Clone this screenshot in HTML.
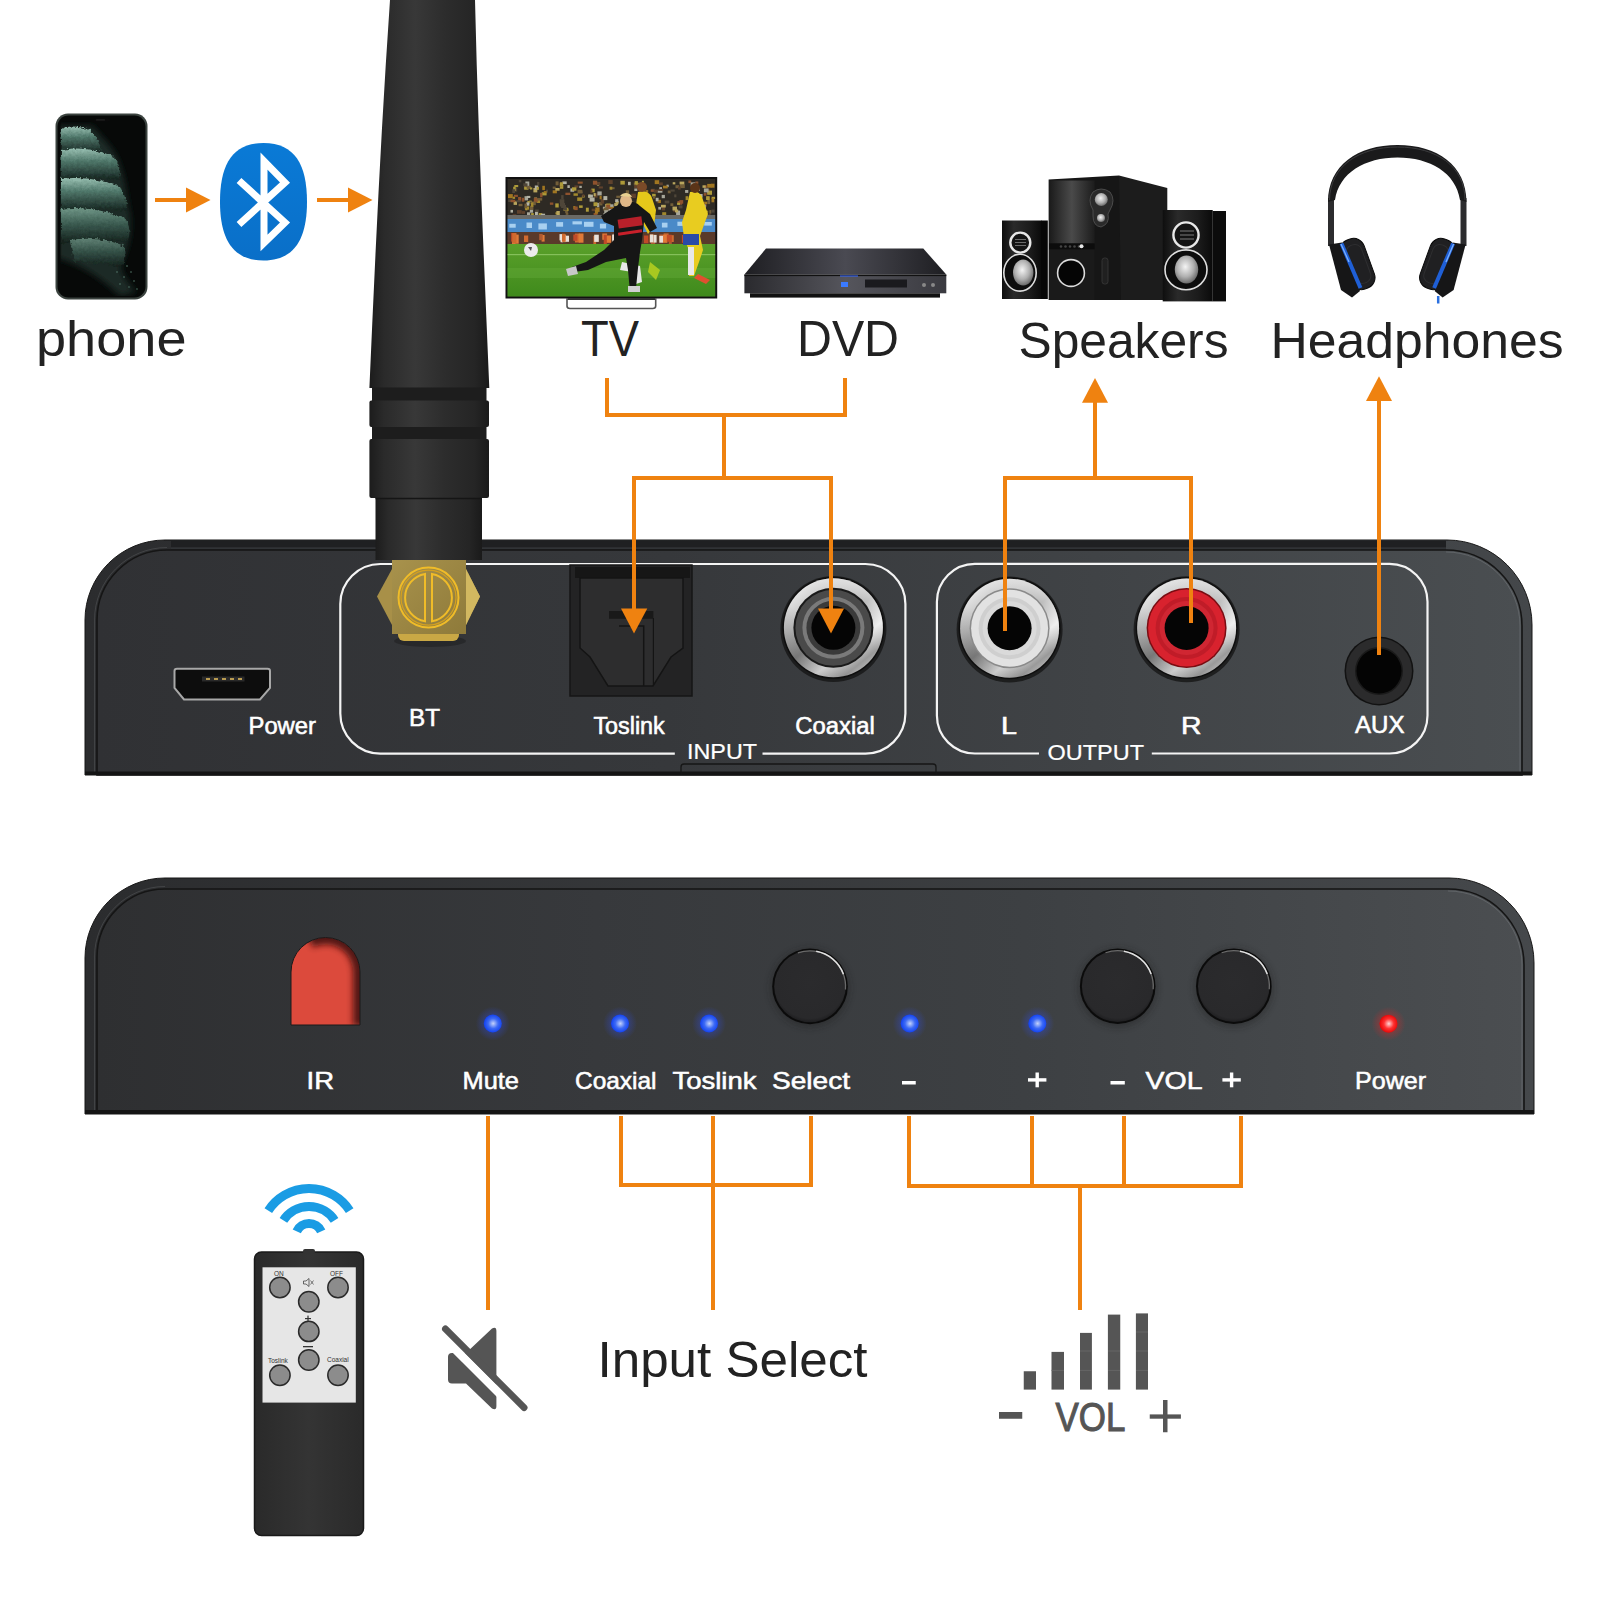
<!DOCTYPE html>
<html><head><meta charset="utf-8">
<style>
html,body{margin:0;padding:0;background:#fff;width:1600px;height:1600px;overflow:hidden}
svg{display:block}
text{font-family:"Liberation Sans",sans-serif}
</style></head>
<body>
<svg width="1600" height="1600" viewBox="0 0 1600 1600">
<defs>
  <linearGradient id="pTop" x1="0" y1="0" x2="1" y2="0">
    <stop offset="0" stop-color="#303134"/>
    <stop offset="0.4" stop-color="#36383b"/>
    <stop offset="1" stop-color="#4a4e51"/>
  </linearGradient>
  <linearGradient id="pBot" x1="0" y1="0" x2="1" y2="0">
    <stop offset="0" stop-color="#2e2f31"/>
    <stop offset="0.35" stop-color="#37393c"/>
    <stop offset="0.65" stop-color="#3d4043"/>
    <stop offset="1" stop-color="#4b4e51"/>
  </linearGradient>
  <linearGradient id="pRimT" x1="0" y1="0" x2="1" y2="0">
    <stop offset="0" stop-color="#2b2c2e"/>
    <stop offset="1" stop-color="#44474a"/>
  </linearGradient>
  <linearGradient id="pRimB" x1="0" y1="0" x2="1" y2="0">
    <stop offset="0" stop-color="#2b2c2e"/>
    <stop offset="1" stop-color="#45484b"/>
  </linearGradient>
  <linearGradient id="ant" x1="0" y1="0" x2="1" y2="0">
    <stop offset="0" stop-color="#1c1c1c"/>
    <stop offset="0.12" stop-color="#2a2a2a"/>
    <stop offset="0.38" stop-color="#383838"/>
    <stop offset="0.62" stop-color="#2d2d2d"/>
    <stop offset="0.88" stop-color="#252525"/>
    <stop offset="1" stop-color="#1a1a1a"/>
  </linearGradient>
  <linearGradient id="gold" x1="0" y1="0" x2="1" y2="1">
    <stop offset="0" stop-color="#a8924c"/>
    <stop offset="1" stop-color="#8e7a3a"/>
  </linearGradient>
  <linearGradient id="silver" x1="0.1" y1="0" x2="0.9" y2="1">
    <stop offset="0" stop-color="#fbfbfb"/>
    <stop offset="0.3" stop-color="#bdbdbd"/>
    <stop offset="0.5" stop-color="#8a8a8a"/>
    <stop offset="0.7" stop-color="#e6e6e6"/>
    <stop offset="0.85" stop-color="#9a9a9a"/>
    <stop offset="1" stop-color="#d8d8d8"/>
  </linearGradient>
  <linearGradient id="silver2" x1="1" y1="0" x2="0" y2="1">
    <stop offset="0" stop-color="#ffffff" stop-opacity="0.9"/>
    <stop offset="0.4" stop-color="#ffffff" stop-opacity="0"/>
    <stop offset="0.6" stop-color="#000" stop-opacity="0"/>
    <stop offset="1" stop-color="#000" stop-opacity="0.25"/>
  </linearGradient>
  <radialGradient id="ledB" cx="0.52" cy="0.5" r="0.55">
    <stop offset="0" stop-color="#c4d2fa"/>
    <stop offset="0.5" stop-color="#3d6af5"/>
    <stop offset="1" stop-color="#0a3af0"/>
  </radialGradient>
  <radialGradient id="ledR" cx="0.52" cy="0.5" r="0.55">
    <stop offset="0" stop-color="#ffd4d4"/>
    <stop offset="0.5" stop-color="#ff3030"/>
    <stop offset="1" stop-color="#e00000"/>
  </radialGradient>
  <radialGradient id="glowB" cx="0.5" cy="0.5" r="0.5">
    <stop offset="0.4" stop-color="#3050ff" stop-opacity="0.35"/>
    <stop offset="1" stop-color="#3050ff" stop-opacity="0"/>
  </radialGradient>
  <radialGradient id="glowR" cx="0.5" cy="0.5" r="0.5">
    <stop offset="0.4" stop-color="#ff2020" stop-opacity="0.35"/>
    <stop offset="1" stop-color="#ff2020" stop-opacity="0"/>
  </radialGradient>
  <radialGradient id="btn" cx="0.5" cy="0.45" r="0.55">
    <stop offset="0" stop-color="#2b2b2d"/>
    <stop offset="0.9" stop-color="#29292b"/>
    <stop offset="1" stop-color="#1e1e20"/>
  </radialGradient>
</defs>

<!-- ============ TOP PANEL ============ -->
<path d="M85,775 L85,620 A80,80 0 0 1 165,540 L1447,540 A85,85 0 0 1 1532,625 L1532,775 Z" fill="url(#pRimT)" stroke="#161616" stroke-width="1"/>
<rect x="171" y="540.5" width="1275" height="9" fill="#1f2022"/>
<rect x="171" y="547.5" width="1275" height="1.2" fill="#45484b" opacity="0.7"/>
<path d="M97,775 L97,620 A70,70 0 0 1 167,550 L1446,550 A76,76 0 0 1 1522,626 L1522,775 Z" fill="url(#pTop)" stroke="#151515" stroke-width="1.6"/>
<path d="M94.5,775 L94.5,620 A72.5,72.5 0 0 1 167,547.5" fill="none" stroke="#5a5c5e" stroke-width="0.8" opacity="0.6"/>
<path d="M1446,552 A74,74 0 0 1 1520,626 L1520,775" fill="none" stroke="#7a7e82" stroke-width="0.8" opacity="0.6"/>
<rect x="85" y="771.5" width="1447" height="3.5" fill="#141414"/>

<!-- ============ BOTTOM PANEL ============ -->
<path d="M85,1114 L85,958 A80,80 0 0 1 165,878 L1449,878 A85,85 0 0 1 1534,963 L1534,1114 Z" fill="url(#pRimB)" stroke="#161616" stroke-width="1"/>
<path d="M97,1111 L97,957 A68,68 0 0 1 165,889 L1448,889 A76,76 0 0 1 1524,965 L1524,1111 Z" fill="url(#pBot)" stroke="#151515" stroke-width="1.6"/>
<path d="M94.5,1111 L94.5,957 A70.5,70.5 0 0 1 165,886.5" fill="none" stroke="#5a5c5e" stroke-width="0.8" opacity="0.6"/>
<path d="M1448,891 A74,74 0 0 1 1522,965 L1522,1111" fill="none" stroke="#7a7e82" stroke-width="0.8" opacity="0.6"/>
<rect x="85" y="1110" width="1449" height="4" fill="#141414"/>

<!-- ===== top panel components ===== -->
<g fill="none" stroke="#f4f4f4" stroke-width="2.2">
  <path d="M762.5,753.6 L865.4,753.6 A40,40 0 0 0 905.4,713.6 L905.4,604 A40,40 0 0 0 865.4,564 L380.3,564 A40,40 0 0 0 340.3,604 L340.3,713.6 A40,40 0 0 0 380.3,753.6 L674.8,753.6"/>
  <path d="M1151.8,753.5 L1389.5,753.5 A38,38 0 0 0 1427.5,715.5 L1427.5,601.8 A38,38 0 0 0 1389.5,563.8 L974.9,563.8 A38,38 0 0 0 936.9,601.8 L936.9,715.5 A38,38 0 0 0 974.9,753.5 L1039,753.5"/>
</g>
<!-- notch -->
<path d="M681,775 L681,767 Q681,764 684,764 L933,764 Q936,764 936,767 L936,775" fill="none" stroke="#161616" stroke-width="1.3"/>
<!-- micro usb -->
<path d="M177,668.75 L267.5,668.75 Q270,668.75 270,671 L270,688 L260,699.5 L184,699.5 L174.5,688 L174.5,671 Q174.5,668.75 177,668.75 Z" fill="#0d0d0d" stroke="#a8a8a8" stroke-width="2"/>
<rect x="202" y="676.5" width="42.5" height="5" fill="#2a2a2a"/>
<g fill="#b89a50"><rect x="206" y="678" width="4" height="2"/><rect x="214" y="678" width="4" height="2"/><rect x="222" y="678" width="4" height="2"/><rect x="230" y="678" width="4" height="2"/><rect x="238" y="678" width="4" height="2"/></g>
<!-- toslink -->
<rect x="570" y="565" width="122" height="131" fill="#232324" stroke="#161616" stroke-width="1.5"/>
<rect x="575" y="567" width="115" height="11" fill="#161616"/>
<path d="M580,578 L683,578 L683,648 L671,657 L653,686 L608,686 L590,657 L580,648 Z" fill="#2d2d2e" stroke="#141414" stroke-width="1.5"/>
<rect x="609" y="611" width="44.4" height="7.75" fill="#191919"/>
<path d="M619,626 L643.7,626 L643.7,686" fill="none" stroke="#141414" stroke-width="1.5"/>
<line x1="653.4" y1="618" x2="653.4" y2="686" stroke="#141414" stroke-width="1.2"/>
<!-- coaxial -->
<circle cx="833.4" cy="629" r="53" fill="#151515" opacity="0.8"/>
<circle cx="833.4" cy="627.8" r="51" fill="#0e0e0e"/>
<circle cx="833.4" cy="627.8" r="49.5" fill="url(#silver)"/>
<circle cx="833.4" cy="627.8" r="49.5" fill="url(#silver2)"/>
<circle cx="833.4" cy="627.8" r="40" fill="#1a1a1a"/>
<circle cx="833.4" cy="627.8" r="38" fill="#4a4a4a"/>
<circle cx="833.4" cy="627.8" r="31" fill="#7a7a7a"/>
<circle cx="833.4" cy="627.8" r="27" fill="#3a3a3a"/>
<circle cx="833.4" cy="627.8" r="22" fill="#050505"/>
<!-- L jack -->
<circle cx="1009.6" cy="629.5" r="53" fill="#151515" opacity="0.8"/>
<circle cx="1009.6" cy="628.2" r="51" fill="#0e0e0e"/>
<circle cx="1009.6" cy="628.2" r="49.5" fill="url(#silver)"/>
<circle cx="1009.6" cy="628.2" r="49.5" fill="url(#silver2)"/>
<circle cx="1009.6" cy="628.2" r="40" fill="#8a8a8a"/>
<circle cx="1009.6" cy="628.2" r="38.5" fill="#e2e2e2"/>
<circle cx="1009.6" cy="628.2" r="31" fill="#cfcfcf"/>
<circle cx="1009.6" cy="628.2" r="27" fill="#dadada"/>
<circle cx="1009.6" cy="628.2" r="22" fill="#050505"/>
<!-- R jack -->
<circle cx="1186.6" cy="629.3" r="53" fill="#151515" opacity="0.8"/>
<circle cx="1186.6" cy="628" r="51" fill="#0e0e0e"/>
<circle cx="1186.6" cy="628" r="49.5" fill="url(#silver)"/>
<circle cx="1186.6" cy="628" r="49.5" fill="url(#silver2)"/>
<circle cx="1186.6" cy="628" r="40" fill="#7a0c12"/>
<circle cx="1186.6" cy="628" r="38.5" fill="#d8222e"/>
<circle cx="1186.6" cy="628" r="31" fill="#c01c28"/>
<circle cx="1186.6" cy="628" r="27" fill="#d02632"/>
<circle cx="1186.6" cy="628" r="22" fill="#050505"/>
<!-- AUX -->
<circle cx="1379" cy="671" r="34.5" fill="#121212"/>
<circle cx="1379" cy="671" r="33" fill="#2b2b2c"/>
<circle cx="1379" cy="671" r="24" fill="#1a1a1a"/>
<circle cx="1379" cy="671" r="22.5" fill="#040404"/>

<!-- ===== antenna ===== -->
<path d="M390,0 L475,0 C478,130 484,260 489.3,388 L369.4,388 C375,260 381,130 390,0 Z" fill="url(#ant)"/>
<rect x="372" y="387.5" width="114.5" height="13.5" fill="#1d1d1d"/>
<rect x="369.4" y="400.6" width="119.6" height="26.4" rx="2" fill="url(#ant)"/>
<rect x="372" y="427" width="114.5" height="12" fill="#1d1d1d"/>
<rect x="369.4" y="439" width="119.6" height="59" rx="2" fill="url(#ant)"/>
<rect x="375.5" y="498" width="106.5" height="62" fill="url(#ant)"/>
<line x1="375.5" y1="498.5" x2="482" y2="498.5" stroke="#151515" stroke-width="1.5"/>
<!-- gold connector -->
<ellipse cx="430" cy="641" rx="36" ry="6" fill="#111" opacity="0.35"/>
<polygon points="377,596.5 392,569 466,569 480,596.5 466,625 392,625" fill="#a89048"/>
<polygon points="466,569 480,596.5 466,625" fill="#d2b860"/>
<rect x="398" y="624" width="61" height="17" rx="6" fill="#c9a845"/>
<rect x="392" y="560" width="74" height="74" fill="url(#gold)"/>
<g fill="none" stroke="#f0bc28" stroke-width="2">
  <circle cx="428.5" cy="597.6" r="30"/>
  <circle cx="428.5" cy="597.6" r="27.5" stroke="#d4a020" stroke-width="1.2"/>
  <path d="M425,574 A24,24 0 0 0 425,621.3 Z"/>
  <path d="M432,574 A24,24 0 0 1 432,621.3 Z"/>
</g>

<!-- ===== bottom panel components ===== -->
<clipPath id="irClip"><path d="M291,1025 L291,972 A34.5,34.5 0 0 1 360,972 L360,1025 Z"/></clipPath>
<path d="M291,1025 L291,972 A34.5,34.5 0 0 1 360,972 L360,1025 Z" fill="#dc4a3c"/>
<g clip-path="url(#irClip)">
  <path d="M310,941.2 A34.5,34.5 0 0 1 360,972 L360,1026" fill="none" stroke="#3a0e0a" stroke-width="14" filter="url(#blur3)" opacity="0.85"/>
</g>
<path d="M291,1025 L291,972 A34.5,34.5 0 0 1 360,972 L360,1025 Z" fill="none" stroke="#1a1a1a" stroke-width="1"/>
<g>
  <circle cx="492.8" cy="1023.5" r="17" fill="url(#glowB)"/>
  <circle cx="620" cy="1023.5" r="17" fill="url(#glowB)"/>
  <circle cx="709" cy="1023.5" r="17" fill="url(#glowB)"/>
  <circle cx="909.7" cy="1023.5" r="17" fill="url(#glowB)"/>
  <circle cx="1037.3" cy="1023.5" r="17" fill="url(#glowB)"/>
  <circle cx="1388.5" cy="1023.7" r="17" fill="url(#glowR)"/>
  <circle cx="492.8" cy="1023.5" r="9" fill="url(#ledB)"/>
  <circle cx="620" cy="1023.5" r="9" fill="url(#ledB)"/>
  <circle cx="709" cy="1023.5" r="9" fill="url(#ledB)"/>
  <circle cx="909.7" cy="1023.5" r="9" fill="url(#ledB)"/>
  <circle cx="1037.3" cy="1023.5" r="9" fill="url(#ledB)"/>
  <circle cx="1388.5" cy="1023.7" r="9" fill="url(#ledR)"/>
</g>
<g>
  <circle cx="810" cy="987.9" r="40" fill="#1a1a1a" opacity="0.35" filter="url(#blur3)"/>
  <circle cx="1117.7" cy="987.7" r="40" fill="#1a1a1a" opacity="0.35" filter="url(#blur3)"/>
  <circle cx="1233.8" cy="987.7" r="40" fill="#1a1a1a" opacity="0.35" filter="url(#blur3)"/>
  <circle cx="810" cy="986.4" r="37.8" fill="#0b0b0b"/>
  <circle cx="810" cy="986.4" r="35.8" fill="url(#btn)"/>
  <path d="M797.82,952.95 A35.6,35.6 0 0 1 845.46,989.50" fill="none" stroke="#6a6a6a" stroke-width="1.3"/>
  <path d="M816.18,951.34 A35.6,35.6 0 0 1 843.45,974.22" fill="none" stroke="#e0e0e0" stroke-width="1.5"/>
  <circle cx="1117.7" cy="986.2" r="37.8" fill="#0b0b0b"/>
  <circle cx="1117.7" cy="986.2" r="35.8" fill="url(#btn)"/>
  <path d="M1105.52,952.75 A35.6,35.6 0 0 1 1153.16,989.30" fill="none" stroke="#6a6a6a" stroke-width="1.3"/>
  <path d="M1123.88,951.14 A35.6,35.6 0 0 1 1151.15,974.02" fill="none" stroke="#e0e0e0" stroke-width="1.5"/>
  <circle cx="1233.8" cy="986.2" r="37.8" fill="#0b0b0b"/>
  <circle cx="1233.8" cy="986.2" r="35.8" fill="url(#btn)"/>
  <path d="M1221.62,952.75 A35.6,35.6 0 0 1 1269.26,989.30" fill="none" stroke="#6a6a6a" stroke-width="1.3"/>
  <path d="M1239.98,951.14 A35.6,35.6 0 0 1 1267.25,974.02" fill="none" stroke="#e0e0e0" stroke-width="1.5"/>
</g>
<g fill="#fff">
  <rect x="902" y="1081" width="13.75" height="3.5"/>
  <rect x="1028" y="1078.2" width="18.4" height="3.4"/>
  <rect x="1035.5" y="1072.5" width="3.4" height="14.8"/>
  <rect x="1110.5" y="1081" width="14.3" height="3.5"/>
  <rect x="1222.4" y="1078.2" width="18.4" height="3.4"/>
  <rect x="1229.9" y="1072.5" width="3.4" height="14.8"/>
</g>

<!-- ============ ORANGE LINES ============ -->
<g stroke="#ef8210" stroke-width="4" fill="none">
  <polyline points="607,378 607,415 845,415 845,378"/>
  <line x1="724" y1="415" x2="724" y2="478"/>
  <polyline points="634,609 634,478 831,478 831,609"/>
  <polyline points="1005,631 1005,478 1191,478 1191,623"/>
  <line x1="1095" y1="478" x2="1095" y2="400"/>
  <line x1="1379" y1="655" x2="1379" y2="398"/>
  <line x1="155" y1="200" x2="188" y2="200"/>
  <line x1="317" y1="200" x2="350" y2="200"/>
  <line x1="488" y1="1116" x2="488" y2="1310"/>
  <polyline points="621,1116 621,1185 811,1185 811,1116"/>
  <line x1="713" y1="1116" x2="713" y2="1310"/>
  <polyline points="909,1116 909,1186 1241,1186 1241,1116"/>
  <line x1="1032" y1="1116" x2="1032" y2="1186"/>
  <line x1="1124" y1="1116" x2="1124" y2="1186"/>
  <line x1="1080" y1="1186" x2="1080" y2="1310"/>
</g>
<g fill="#ef8210">
  <polygon points="186,187.5 210.5,200 186,212.5"/>
  <polygon points="348,187.5 372.5,200 348,212.5"/>
  <polygon points="621,608.6 647.3,608.6 634,633.4"/>
  <polygon points="818,608.6 844,608.6 831,633.4"/>
  <polygon points="1082,402.7 1108,402.7 1095,378"/>
  <polygon points="1366,401 1392,401 1379,376.3"/>
</g>


<!-- ===== phone ===== -->
<defs>
  <filter id="blur3" x="-20%" y="-20%" width="140%" height="140%"><feGaussianBlur stdDeviation="3"/></filter>
  <filter id="feather" x="-10%" y="-10%" width="120%" height="120%"><feTurbulence type="fractalNoise" baseFrequency="0.35" numOctaves="2" seed="3" result="n"/><feDisplacementMap in="SourceGraphic" in2="n" scale="5" xChannelSelector="R" yChannelSelector="G"/></filter>
  <filter id="blur1" x="-20%" y="-20%" width="140%" height="140%"><feGaussianBlur stdDeviation="0.8"/></filter>
  <radialGradient id="phoneScr" cx="0.5" cy="0.5" r="0.5">
    <stop offset="0" stop-color="#6f9a8c"/>
    <stop offset="0.45" stop-color="#3c5f55"/>
    <stop offset="0.8" stop-color="#15201d" stop-opacity="0.6"/>
    <stop offset="1" stop-color="#050706" stop-opacity="0"/>
  </radialGradient>
  <linearGradient id="btBlue" x1="0" y1="0" x2="0" y2="1">
    <stop offset="0" stop-color="#0a7ad6"/>
    <stop offset="1" stop-color="#0a6fc8"/>
  </linearGradient>
  <linearGradient id="tvSky" x1="0" y1="0" x2="0" y2="1">
    <stop offset="0" stop-color="#2a2a22"/>
    <stop offset="0.55" stop-color="#4a4630"/>
    <stop offset="1" stop-color="#3a3a30"/>
  </linearGradient>
  <linearGradient id="tvGrass" x1="0" y1="0" x2="0" y2="1">
    <stop offset="0" stop-color="#5aa02a"/>
    <stop offset="1" stop-color="#3f8a1c"/>
  </linearGradient>
  <linearGradient id="dvdTop" x1="0" y1="0" x2="1" y2="0">
    <stop offset="0" stop-color="#1e1e22"/>
    <stop offset="0.5" stop-color="#4a4a52"/>
    <stop offset="1" stop-color="#1e1e22"/>
  </linearGradient>
  <linearGradient id="dvdFront" x1="0" y1="0" x2="1" y2="0">
    <stop offset="0" stop-color="#2a2a2e"/>
    <stop offset="0.5" stop-color="#55555c"/>
    <stop offset="1" stop-color="#3a3a40"/>
  </linearGradient>
  <radialGradient id="cone" cx="0.45" cy="0.4" r="0.6">
    <stop offset="0" stop-color="#f4f4f4"/>
    <stop offset="0.6" stop-color="#b0b0b0"/>
    <stop offset="1" stop-color="#6a6a6a"/>
  </radialGradient>
  <linearGradient id="spk" x1="0" y1="0" x2="1" y2="0">
    <stop offset="0" stop-color="#1a1a1a"/>
    <stop offset="0.5" stop-color="#2e2e2e"/>
    <stop offset="1" stop-color="#141414"/>
  </linearGradient>
</defs>
<rect x="55.5" y="113.5" width="92" height="186" rx="12.5" fill="#3b433f"/>
<rect x="57.5" y="115.5" width="88" height="182" rx="11" fill="#070908"/>
<clipPath id="scrClip"><rect x="60.5" y="118" width="82.5" height="178" rx="8"/></clipPath>
<defs>
  <linearGradient id="crest" x1="0" y1="0" x2="0" y2="1">
    <stop offset="0" stop-color="#98bfb1"/>
    <stop offset="0.4" stop-color="#4f776a"/>
    <stop offset="1" stop-color="#14221e"/>
  </linearGradient>
  <linearGradient id="crest2" x1="0" y1="0" x2="0" y2="1">
    <stop offset="0" stop-color="#6f9586"/>
    <stop offset="0.45" stop-color="#3a5a4f"/>
    <stop offset="1" stop-color="#111c18"/>
  </linearGradient>
</defs>
<g clip-path="url(#scrClip)">
  <path d="M58,126 L92,126 C104,140 116,150 120,166 C126,182 126,198 130,214 C132,232 128,248 122,262 C118,272 128,282 136,292 L120,296 C104,280 84,266 58,258 Z" fill="#1a2b26" filter="url(#blur3)"/>
  <g filter="url(#feather)">
    <path d="M61,129 C68,125 80,126 90,130 C96,137 100,145 104,153 C90,153 74,152 61,153 Z" fill="url(#crest)"/>
    <path d="M61,150 C80,146 100,150 114,157 C120,165 121,172 119,180 C100,178 80,177 61,180 Z" fill="url(#crest)"/>
    <path d="M61,179 C80,176 102,180 118,186 C125,194 128,202 126,211 C104,209 82,208 61,211 Z" fill="url(#crest)"/>
    <path d="M61,209 C82,206 106,211 125,218 C130,226 131,234 127,242 C104,240 80,240 61,244 Z" fill="url(#crest2)"/>
    <path d="M70,240 C90,237 110,240 124,246 C127,254 125,261 121,267 C104,264 88,262 74,262 Z" fill="url(#crest2)" opacity="0.8"/>
  </g>
  <g fill="#5a8072" opacity="0.55"><circle cx="127" cy="266" r="1.1"/><circle cx="131" cy="272" r="1"/><circle cx="124" cy="277" r="1.1"/><circle cx="134" cy="281" r="1"/><circle cx="120" cy="284" r="1"/><circle cx="129" cy="287" r="0.9"/><circle cx="137" cy="289" r="0.9"/><circle cx="117" cy="272" r="1"/></g>
</g>
<rect x="94" y="118.5" width="16" height="3" rx="1.5" fill="#0a0a0a"/>
<rect x="96" y="119.3" width="9" height="1.2" rx="0.6" fill="#222"/>

<!-- ===== bluetooth ===== -->
<path d="M263.5,143 C295,143 307,165 307,201.75 C307,238 295,260.5 263.5,260.5 C232,260.5 220,238 220,201.75 C220,165 232,143 263.5,143 Z" fill="url(#btBlue)"/>
<polyline points="239,180.5 285,222.5 264,243 264,161 285,182.5 239,224.5" fill="none" stroke="#fff" stroke-width="7" stroke-linejoin="miter" stroke-miterlimit="10"/>

<!-- ===== TV ===== -->
<rect x="505.5" y="177" width="211.7" height="121.5" fill="#111"/>
<rect x="507.5" y="179" width="207.7" height="117.5" fill="#2e2a24"/>
<g opacity="0.75"><rect x="574.4" y="185.4" width="4.0" height="2.2" fill="#704a30"/><rect x="527.3" y="201.0" width="4.7" height="2.5" fill="#d8c040"/><rect x="596.9" y="182.5" width="2.3" height="3.1" fill="#e8d070"/><rect x="533.4" y="188.0" width="3.9" height="4.4" fill="#e8d070"/><rect x="628.0" y="181.8" width="2.7" height="3.4" fill="#e0e0d0"/><rect x="567.4" y="185.2" width="2.4" height="2.8" fill="#e0e0d0"/><rect x="529.1" y="200.6" width="2.6" height="2.2" fill="#d8c040"/><rect x="623.7" y="202.3" width="3.5" height="3.3" fill="#5a5040"/><rect x="603.4" y="213.2" width="3.1" height="2.6" fill="#e0e0d0"/><rect x="651.3" y="188.8" width="3.7" height="3.3" fill="#5a5040"/><rect x="657.5" y="190.4" width="4.9" height="2.3" fill="#d0d0c0"/><rect x="541.8" y="192.3" width="4.8" height="3.1" fill="#d8c040"/><rect x="664.7" y="200.6" width="4.6" height="2.8" fill="#5a5040"/><rect x="629.8" y="200.9" width="3.4" height="4.1" fill="#8a7040"/><rect x="605.2" y="203.9" width="2.2" height="3.8" fill="#e8d070"/><rect x="711.6" y="209.6" width="2.9" height="3.0" fill="#5a5040"/><rect x="512.6" y="196.6" width="2.5" height="2.3" fill="#c8a830"/><rect x="552.7" y="190.3" width="4.2" height="3.0" fill="#c89020"/><rect x="524.5" y="196.2" width="3.6" height="4.2" fill="#d0d0c0"/><rect x="685.1" y="190.0" width="3.2" height="2.9" fill="#d0d0c0"/><rect x="704.3" y="185.4" width="2.5" height="2.6" fill="#b06030"/><rect x="510.5" y="209.9" width="2.5" height="2.7" fill="#e0e0d0"/><rect x="593.9" y="193.3" width="3.7" height="4.4" fill="#704a30"/><rect x="702.8" y="203.6" width="4.2" height="3.1" fill="#704a30"/><rect x="588.4" y="194.4" width="2.3" height="3.6" fill="#c8a830"/><rect x="547.1" y="215.4" width="3.3" height="2.3" fill="#e8d070"/><rect x="518.8" y="180.0" width="2.5" height="2.3" fill="#5a5040"/><rect x="633.8" y="182.5" width="2.6" height="2.9" fill="#8a7040"/><rect x="703.9" y="201.7" width="3.4" height="2.3" fill="#c89020"/><rect x="711.6" y="196.8" width="3.5" height="2.2" fill="#d8c040"/><rect x="661.7" y="206.7" width="3.4" height="3.7" fill="#704a30"/><rect x="512.7" y="214.2" width="3.6" height="2.4" fill="#704a30"/><rect x="695.4" y="207.3" width="2.9" height="3.6" fill="#d8c040"/><rect x="650.7" y="189.4" width="3.1" height="2.4" fill="#b06030"/><rect x="617.2" y="208.0" width="3.0" height="2.6" fill="#b06030"/><rect x="673.2" y="209.5" width="4.2" height="2.6" fill="#704a30"/><rect x="609.0" y="206.3" width="5.0" height="4.0" fill="#c89020"/><rect x="561.1" y="204.9" width="4.9" height="3.1" fill="#5a5040"/><rect x="703.8" y="193.1" width="2.7" height="2.6" fill="#b06030"/><rect x="577.2" y="197.4" width="5.0" height="3.5" fill="#c8a830"/><rect x="606.3" y="203.5" width="4.4" height="2.2" fill="#d8c040"/><rect x="694.5" y="208.2" width="4.3" height="3.2" fill="#e0e0d0"/><rect x="597.0" y="202.9" width="2.3" height="4.4" fill="#d0d0c0"/><rect x="602.9" y="206.8" width="2.3" height="2.4" fill="#e0e0d0"/><rect x="513.6" y="201.3" width="3.4" height="3.6" fill="#e8d070"/><rect x="677.4" y="215.3" width="4.0" height="2.9" fill="#704a30"/><rect x="620.4" y="180.8" width="4.4" height="3.8" fill="#d8c040"/><rect x="615.9" y="213.6" width="3.3" height="4.2" fill="#b06030"/><rect x="513.7" y="187.7" width="3.5" height="3.9" fill="#5a5040"/><rect x="561.2" y="195.1" width="2.4" height="4.3" fill="#5a5040"/><rect x="692.0" y="203.8" width="4.4" height="3.3" fill="#704a30"/><rect x="534.8" y="185.5" width="3.5" height="4.2" fill="#e0e0d0"/><rect x="632.8" y="207.9" width="2.4" height="2.4" fill="#e8d070"/><rect x="656.7" y="200.0" width="3.0" height="3.3" fill="#704a30"/><rect x="606.9" y="208.0" width="4.6" height="2.1" fill="#b06030"/><rect x="564.8" y="207.8" width="3.5" height="3.4" fill="#d8c040"/><rect x="598.9" y="202.1" width="3.5" height="3.3" fill="#8a7040"/><rect x="600.7" y="199.2" width="3.4" height="4.4" fill="#704a30"/><rect x="687.7" y="213.9" width="2.8" height="3.4" fill="#b06030"/><rect x="680.2" y="184.9" width="2.4" height="3.1" fill="#d8c040"/><rect x="645.6" y="195.4" width="2.6" height="2.8" fill="#d8c040"/><rect x="691.9" y="185.6" width="4.1" height="3.7" fill="#e0e0d0"/><rect x="559.9" y="184.9" width="3.4" height="3.9" fill="#d8c040"/><rect x="589.6" y="197.5" width="5.0" height="4.1" fill="#e0e0d0"/><rect x="652.8" y="215.8" width="3.2" height="3.1" fill="#5a5040"/><rect x="573.3" y="206.0" width="2.1" height="3.4" fill="#c89020"/><rect x="652.1" y="193.8" width="3.6" height="2.7" fill="#d8c040"/><rect x="531.1" y="213.1" width="2.7" height="4.2" fill="#d8c040"/><rect x="562.4" y="181.4" width="4.3" height="2.7" fill="#e0e0d0"/><rect x="676.1" y="210.6" width="4.0" height="4.4" fill="#d0d0c0"/><rect x="538.6" y="213.1" width="3.7" height="3.8" fill="#d8c040"/><rect x="565.2" y="208.8" width="2.6" height="4.2" fill="#8a7040"/><rect x="700.4" y="202.8" width="4.4" height="2.2" fill="#b06030"/><rect x="521.7" y="211.1" width="3.4" height="2.8" fill="#704a30"/><rect x="593.6" y="213.0" width="3.9" height="2.1" fill="#b06030"/><rect x="700.3" y="214.9" width="2.8" height="2.5" fill="#8a7040"/><rect x="636.9" y="199.1" width="2.6" height="3.1" fill="#e0e0d0"/><rect x="563.5" y="208.9" width="5.0" height="2.1" fill="#c8a830"/><rect x="658.3" y="199.8" width="2.6" height="3.2" fill="#c89020"/><rect x="529.8" y="209.5" width="3.3" height="3.2" fill="#d0d0c0"/><rect x="706.9" y="191.1" width="2.6" height="2.6" fill="#b06030"/><rect x="678.6" y="205.4" width="3.9" height="3.0" fill="#5a5040"/><rect x="709.3" y="210.1" width="2.0" height="3.6" fill="#8a7040"/><rect x="596.3" y="182.0" width="4.0" height="3.0" fill="#704a30"/><rect x="645.5" y="190.1" width="2.7" height="2.7" fill="#c89020"/><rect x="546.0" y="189.7" width="2.0" height="2.9" fill="#5a5040"/><rect x="707.4" y="199.7" width="2.7" height="4.4" fill="#8a7040"/><rect x="552.7" y="186.6" width="3.0" height="2.2" fill="#8a7040"/><rect x="611.1" y="187.2" width="3.5" height="2.0" fill="#8a7040"/><rect x="675.5" y="185.2" width="3.8" height="3.0" fill="#8a7040"/><rect x="570.4" y="188.4" width="3.8" height="3.3" fill="#e0e0d0"/><rect x="642.8" y="205.8" width="4.6" height="3.0" fill="#5a5040"/><rect x="655.7" y="197.8" width="2.9" height="3.5" fill="#e0e0d0"/><rect x="517.0" y="210.1" width="4.7" height="3.6" fill="#704a30"/><rect x="536.6" y="198.9" width="3.5" height="4.1" fill="#c8a830"/><rect x="677.4" y="201.0" width="4.7" height="3.7" fill="#b06030"/><rect x="525.4" y="181.5" width="3.9" height="4.4" fill="#d0d0c0"/><rect x="679.3" y="200.1" width="3.9" height="3.6" fill="#b06030"/><rect x="608.3" y="180.1" width="4.4" height="3.9" fill="#704a30"/><rect x="692.1" y="183.3" width="3.6" height="3.9" fill="#c89020"/><rect x="559.7" y="182.7" width="2.8" height="3.8" fill="#b06030"/><rect x="555.3" y="203.4" width="3.4" height="4.1" fill="#d8c040"/><rect x="606.2" y="204.6" width="4.3" height="3.5" fill="#b06030"/><rect x="523.9" y="185.3" width="2.8" height="3.9" fill="#8a7040"/><rect x="635.3" y="184.8" width="3.4" height="3.2" fill="#d8c040"/><rect x="649.9" y="204.3" width="2.9" height="3.3" fill="#c89020"/><rect x="603.5" y="207.6" width="5.0" height="3.4" fill="#8a7040"/><rect x="708.5" y="213.7" width="2.1" height="3.1" fill="#704a30"/><rect x="706.5" y="196.2" width="2.8" height="2.5" fill="#b06030"/><rect x="523.3" y="183.3" width="4.2" height="2.7" fill="#5a5040"/><rect x="535.2" y="209.5" width="3.5" height="4.2" fill="#5a5040"/><rect x="555.4" y="212.3" width="3.5" height="2.1" fill="#c8a830"/><rect x="702.7" y="204.5" width="3.2" height="3.8" fill="#d0d0c0"/><rect x="578.5" y="191.4" width="4.5" height="2.0" fill="#5a5040"/><rect x="680.0" y="184.3" width="4.8" height="3.8" fill="#8a7040"/><rect x="559.9" y="182.3" width="3.2" height="4.2" fill="#d8c040"/><rect x="581.9" y="195.4" width="2.8" height="2.1" fill="#d8c040"/><rect x="518.6" y="203.8" width="3.9" height="2.4" fill="#8a7040"/><rect x="597.4" y="191.4" width="4.3" height="4.0" fill="#d0d0c0"/><rect x="689.3" y="209.2" width="3.9" height="4.3" fill="#704a30"/><rect x="620.6" y="205.9" width="2.1" height="3.8" fill="#c89020"/><rect x="634.1" y="185.0" width="4.6" height="3.2" fill="#704a30"/><rect x="534.1" y="197.0" width="3.0" height="2.7" fill="#8a7040"/><rect x="591.3" y="188.6" width="3.4" height="3.7" fill="#d8c040"/><rect x="542.3" y="185.8" width="2.6" height="4.3" fill="#c89020"/><rect x="620.8" y="196.3" width="3.0" height="3.9" fill="#d0d0c0"/><rect x="536.6" y="186.9" width="2.3" height="2.9" fill="#d8c040"/><rect x="573.5" y="193.3" width="4.4" height="2.5" fill="#c8a830"/><rect x="661.7" y="194.9" width="3.2" height="3.3" fill="#d0d0c0"/><rect x="563.4" y="207.1" width="3.5" height="3.4" fill="#5a5040"/><rect x="533.8" y="198.1" width="3.9" height="4.2" fill="#b06030"/><rect x="527.0" y="212.3" width="3.2" height="3.6" fill="#d0d0c0"/><rect x="703.6" y="210.6" width="4.6" height="2.1" fill="#c8a830"/><rect x="595.2" y="207.5" width="4.4" height="4.4" fill="#c89020"/><rect x="508.0" y="194.1" width="4.8" height="4.1" fill="#c89020"/><rect x="707.3" y="188.9" width="2.3" height="2.4" fill="#704a30"/><rect x="707.2" y="183.9" width="4.5" height="3.8" fill="#c89020"/><rect x="525.4" y="208.0" width="2.0" height="2.3" fill="#e8d070"/><rect x="696.6" y="203.2" width="2.9" height="2.3" fill="#8a7040"/><rect x="616.3" y="195.7" width="4.3" height="2.2" fill="#8a7040"/><rect x="615.5" y="201.0" width="3.2" height="2.6" fill="#e8d070"/><rect x="508.2" y="199.3" width="5.0" height="2.7" fill="#5a5040"/><rect x="640.1" y="211.8" width="3.4" height="2.6" fill="#b06030"/><rect x="514.0" y="194.8" width="3.9" height="2.1" fill="#b06030"/><rect x="610.2" y="204.3" width="3.3" height="2.6" fill="#d0d0c0"/><rect x="697.7" y="188.2" width="2.1" height="2.8" fill="#d0d0c0"/><rect x="582.3" y="194.3" width="2.0" height="2.7" fill="#704a30"/><rect x="521.8" y="197.8" width="2.6" height="3.9" fill="#b06030"/><rect x="555.3" y="188.0" width="4.3" height="2.7" fill="#e8d070"/><rect x="609.6" y="186.7" width="2.7" height="3.0" fill="#c8a830"/><rect x="702.5" y="185.3" width="3.2" height="2.5" fill="#e8d070"/><rect x="537.1" y="181.9" width="2.2" height="3.0" fill="#5a5040"/><rect x="658.2" y="215.9" width="4.8" height="2.8" fill="#e0e0d0"/><rect x="641.8" y="198.9" width="3.4" height="2.8" fill="#d0d0c0"/><rect x="680.0" y="215.5" width="3.3" height="2.3" fill="#d8c040"/><rect x="565.4" y="192.7" width="4.9" height="2.3" fill="#b06030"/><rect x="585.9" y="207.7" width="2.9" height="4.0" fill="#d8c040"/><rect x="518.1" y="197.0" width="3.1" height="4.3" fill="#b06030"/><rect x="574.3" y="206.5" width="3.4" height="3.6" fill="#b06030"/><rect x="674.4" y="207.6" width="2.1" height="2.1" fill="#d8c040"/><rect x="672.7" y="182.2" width="2.6" height="2.2" fill="#e8d070"/><rect x="577.5" y="189.8" width="4.9" height="3.5" fill="#8a7040"/><rect x="661.0" y="204.8" width="4.8" height="2.7" fill="#e8d070"/><rect x="695.9" y="202.8" width="4.8" height="2.1" fill="#b06030"/><rect x="530.0" y="205.8" width="3.4" height="3.9" fill="#8a7040"/><rect x="695.3" y="209.3" width="2.4" height="3.2" fill="#c8a830"/><rect x="672.5" y="206.6" width="4.5" height="3.9" fill="#e8d070"/><rect x="556.4" y="211.0" width="3.4" height="4.0" fill="#e8d070"/><rect x="524.2" y="187.1" width="4.3" height="2.6" fill="#d8c040"/><rect x="641.2" y="197.3" width="3.6" height="2.4" fill="#d0d0c0"/><rect x="689.1" y="215.6" width="2.8" height="2.2" fill="#d8c040"/><rect x="594.3" y="215.6" width="4.9" height="2.4" fill="#e0e0d0"/><rect x="593.5" y="202.3" width="4.0" height="3.9" fill="#d8c040"/><rect x="667.8" y="190.6" width="2.8" height="2.7" fill="#8a7040"/><rect x="659.3" y="187.2" width="2.7" height="2.6" fill="#e0e0d0"/><rect x="565.7" y="212.7" width="2.6" height="2.2" fill="#8a7040"/><rect x="711.5" y="198.3" width="2.7" height="4.0" fill="#c89020"/><rect x="711.1" y="183.7" width="3.4" height="4.0" fill="#c89020"/><rect x="695.4" y="181.5" width="2.9" height="2.3" fill="#b06030"/><rect x="631.1" y="209.8" width="2.6" height="2.2" fill="#704a30"/><rect x="685.6" y="196.2" width="2.8" height="3.9" fill="#c8a830"/><rect x="529.7" y="201.5" width="3.9" height="2.5" fill="#5a5040"/><rect x="577.7" y="181.6" width="5.0" height="2.1" fill="#b06030"/><rect x="675.0" y="209.5" width="3.2" height="2.9" fill="#e8d070"/><rect x="572.0" y="187.3" width="4.4" height="3.4" fill="#d8c040"/><rect x="591.7" y="208.7" width="4.0" height="2.4" fill="#704a30"/><rect x="526.7" y="185.9" width="4.1" height="3.0" fill="#8a7040"/><rect x="644.9" y="195.0" width="2.2" height="3.9" fill="#5a5040"/><rect x="592.9" y="180.7" width="4.3" height="4.0" fill="#b06030"/><rect x="588.1" y="194.6" width="4.8" height="3.1" fill="#e0e0d0"/><rect x="594.9" y="209.5" width="3.2" height="4.2" fill="#c89020"/><rect x="666.5" y="184.7" width="2.2" height="2.4" fill="#d0d0c0"/><rect x="526.3" y="202.4" width="3.1" height="3.3" fill="#e0e0d0"/><rect x="579.3" y="185.8" width="2.5" height="2.2" fill="#d0d0c0"/><rect x="608.6" y="209.0" width="4.9" height="2.5" fill="#e0e0d0"/><rect x="679.6" y="181.6" width="4.7" height="2.8" fill="#e8d070"/><rect x="697.9" y="194.0" width="4.7" height="3.6" fill="#e0e0d0"/><rect x="639.3" y="210.8" width="3.9" height="3.5" fill="#b06030"/><rect x="678.0" y="186.6" width="2.7" height="3.0" fill="#704a30"/><rect x="540.1" y="192.9" width="2.4" height="4.4" fill="#b06030"/><rect x="516.4" y="200.2" width="4.3" height="2.1" fill="#5a5040"/><rect x="532.1" y="201.6" width="3.7" height="3.6" fill="#8a7040"/><rect x="641.1" y="191.1" width="2.7" height="3.0" fill="#5a5040"/><rect x="599.6" y="195.8" width="2.1" height="3.5" fill="#c89020"/><rect x="603.4" y="196.1" width="3.9" height="4.0" fill="#e0e0d0"/><rect x="674.2" y="194.4" width="2.2" height="2.9" fill="#5a5040"/><rect x="526.8" y="195.9" width="3.5" height="2.1" fill="#e0e0d0"/><rect x="524.9" y="206.4" width="4.3" height="3.3" fill="#c8a830"/><rect x="662.2" y="212.2" width="4.0" height="4.0" fill="#c8a830"/><rect x="683.7" y="215.9" width="4.2" height="4.0" fill="#b06030"/><rect x="535.0" y="211.9" width="2.9" height="4.0" fill="#e0e0d0"/><rect x="648.7" y="206.0" width="2.7" height="4.1" fill="#e8d070"/><rect x="663.0" y="185.7" width="4.7" height="2.7" fill="#c89020"/><rect x="537.4" y="198.1" width="4.8" height="2.5" fill="#8a7040"/><rect x="634.3" y="188.5" width="3.1" height="2.5" fill="#d0d0c0"/><rect x="541.1" y="213.7" width="4.0" height="4.2" fill="#e0e0d0"/><rect x="670.4" y="189.5" width="4.3" height="2.1" fill="#5a5040"/><rect x="706.1" y="196.3" width="3.6" height="3.7" fill="#d8c040"/><rect x="559.7" y="199.3" width="4.6" height="3.8" fill="#5a5040"/><rect x="562.3" y="215.7" width="3.7" height="2.9" fill="#d8c040"/><rect x="598.7" y="186.4" width="4.2" height="2.1" fill="#704a30"/><rect x="560.0" y="203.0" width="5.0" height="3.5" fill="#5a5040"/><rect x="658.3" y="206.9" width="2.7" height="2.7" fill="#d0d0c0"/><rect x="593.6" y="193.1" width="2.1" height="3.2" fill="#e8d070"/><rect x="641.9" y="180.8" width="2.0" height="2.9" fill="#d8c040"/><rect x="615.2" y="199.2" width="3.2" height="2.8" fill="#e0e0d0"/><rect x="549.9" y="202.5" width="3.4" height="2.3" fill="#b06030"/><rect x="653.0" y="196.2" width="2.2" height="2.4" fill="#8a7040"/><rect x="590.4" y="189.5" width="2.0" height="3.6" fill="#704a30"/><rect x="691.0" y="201.4" width="3.7" height="3.5" fill="#704a30"/><rect x="658.4" y="188.9" width="4.7" height="2.1" fill="#704a30"/><rect x="513.2" y="186.7" width="2.5" height="4.3" fill="#d8c040"/><rect x="510.5" y="199.8" width="4.8" height="2.4" fill="#b06030"/><rect x="614.2" y="203.1" width="3.9" height="3.0" fill="#e8d070"/><rect x="543.8" y="191.1" width="2.9" height="2.1" fill="#c89020"/><rect x="654.7" y="180.2" width="4.5" height="3.9" fill="#c89020"/><rect x="524.5" y="203.6" width="2.5" height="4.5" fill="#8a7040"/><rect x="555.6" y="181.4" width="3.0" height="3.9" fill="#8a7040"/><rect x="653.9" y="189.6" width="3.7" height="3.1" fill="#704a30"/><rect x="707.2" y="190.6" width="4.8" height="4.2" fill="#d8c040"/><rect x="688.4" y="180.5" width="2.8" height="2.6" fill="#b06030"/><rect x="701.7" y="206.9" width="3.0" height="4.2" fill="#5a5040"/><rect x="631.3" y="193.7" width="4.6" height="4.3" fill="#704a30"/><rect x="604.2" y="210.2" width="4.1" height="4.1" fill="#d0d0c0"/><rect x="703.9" y="188.4" width="4.7" height="4.0" fill="#d0d0c0"/><rect x="635.6" y="182.8" width="4.7" height="2.4" fill="#c8a830"/><rect x="530.9" y="202.4" width="2.5" height="4.4" fill="#c8a830"/><rect x="514.3" y="185.0" width="3.9" height="2.1" fill="#d8c040"/><rect x="659.0" y="182.4" width="3.8" height="2.9" fill="#704a30"/><rect x="690.7" y="182.4" width="4.6" height="4.3" fill="#d0d0c0"/><rect x="530.0" y="187.4" width="2.3" height="2.1" fill="#d8c040"/><rect x="677.1" y="202.7" width="2.9" height="2.2" fill="#d8c040"/><rect x="670.4" y="203.3" width="2.9" height="2.8" fill="#8a7040"/><rect x="512.3" y="189.2" width="2.8" height="3.8" fill="#5a5040"/><rect x="694.6" y="207.7" width="3.8" height="3.2" fill="#8a7040"/><rect x="634.7" y="181.1" width="3.2" height="3.1" fill="#d8c040"/><rect x="579.1" y="205.4" width="3.6" height="2.5" fill="#d8c040"/><rect x="625.8" y="190.3" width="3.3" height="3.3" fill="#8a7040"/><rect x="664.2" y="215.2" width="2.0" height="3.2" fill="#c89020"/><rect x="650.5" y="209.7" width="4.9" height="3.5" fill="#704a30"/></g>
<rect x="507.5" y="215" width="207.7" height="4" fill="#6a6a66"/>
<rect x="507.5" y="219" width="207.7" height="13" fill="#4a8ac8"/>
<rect x="509.3" y="223.8" width="6.4" height="3.9" fill="#a8d0f0"/><rect x="526.5" y="222.5" width="5.5" height="5.5" fill="#a8d0f0"/><rect x="538.4" y="223.4" width="8.5" height="6.1" fill="#a8d0f0"/><rect x="556.1" y="222.1" width="7.0" height="4.6" fill="#a8d0f0"/><rect x="572.5" y="221.3" width="9.4" height="3.1" fill="#a8d0f0"/><rect x="584.0" y="221.8" width="9.5" height="5.0" fill="#a8d0f0"/><rect x="599.9" y="223.7" width="6.2" height="4.8" fill="#a8d0f0"/><rect x="615.7" y="223.3" width="8.8" height="5.6" fill="#a8d0f0"/><rect x="629.7" y="222.0" width="5.8" height="6.4" fill="#a8d0f0"/><rect x="646.3" y="223.2" width="5.8" height="4.8" fill="#a8d0f0"/><rect x="661.9" y="222.7" width="5.6" height="4.8" fill="#a8d0f0"/><rect x="677.4" y="221.7" width="6.0" height="4.2" fill="#a8d0f0"/><rect x="691.5" y="223.5" width="5.8" height="3.6" fill="#a8d0f0"/><rect x="704.2" y="222.0" width="7.6" height="3.6" fill="#a8d0f0"/>
<rect x="507.5" y="232" width="207.7" height="12" fill="#5a3a2a"/>
<rect x="574.9" y="233.6" width="4.9" height="8.9" fill="#d06a30"/><rect x="541.6" y="235.0" width="3.0" height="6.6" fill="#e07a38"/><rect x="670.2" y="235.2" width="3.6" height="6.8" fill="#d06a30"/><rect x="565.3" y="235.7" width="3.7" height="6.1" fill="#e8e0d8"/><rect x="649.5" y="234.5" width="4.1" height="7.9" fill="#e07a38"/><rect x="560.5" y="235.2" width="2.5" height="7.0" fill="#e8e0d8"/><rect x="651.0" y="234.8" width="4.1" height="9.4" fill="#b05a30"/><rect x="681.9" y="235.0" width="4.1" height="7.8" fill="#c04a28"/><rect x="561.0" y="235.1" width="4.7" height="7.0" fill="#e8e0d8"/><rect x="653.5" y="234.9" width="3.1" height="7.7" fill="#e8e0d8"/><rect x="512.0" y="235.6" width="3.8" height="8.6" fill="#e07a38"/><rect x="690.5" y="234.0" width="2.5" height="9.3" fill="#d06a30"/><rect x="515.8" y="234.6" width="2.9" height="9.1" fill="#e07a38"/><rect x="613.9" y="233.3" width="3.9" height="8.2" fill="#e8e0d8"/><rect x="612.5" y="234.9" width="4.6" height="8.1" fill="#e8e0d8"/><rect x="659.4" y="234.4" width="5.0" height="6.7" fill="#b05a30"/><rect x="663.6" y="233.4" width="5.0" height="7.4" fill="#d06a30"/><rect x="559.5" y="234.1" width="2.7" height="6.3" fill="#e8e0d8"/><rect x="636.2" y="235.0" width="4.0" height="6.4" fill="#c04a28"/><rect x="659.3" y="235.8" width="3.8" height="6.9" fill="#e8e0d8"/><rect x="602.3" y="233.5" width="4.8" height="6.3" fill="#e07a38"/><rect x="603.7" y="234.7" width="3.1" height="9.9" fill="#c04a28"/><rect x="643.9" y="235.5" width="4.5" height="7.7" fill="#c04a28"/><rect x="663.0" y="234.9" width="4.4" height="7.9" fill="#e07a38"/><rect x="562.6" y="234.1" width="3.1" height="7.7" fill="#e07a38"/><rect x="606.2" y="235.4" width="4.5" height="7.4" fill="#c04a28"/><rect x="573.3" y="234.5" width="4.1" height="6.3" fill="#c04a28"/><rect x="539.2" y="233.9" width="3.5" height="6.3" fill="#b05a30"/><rect x="692.8" y="235.4" width="2.9" height="9.3" fill="#b05a30"/><rect x="511.1" y="233.0" width="4.9" height="8.6" fill="#c04a28"/><rect x="632.1" y="234.7" width="4.6" height="6.7" fill="#e8e0d8"/><rect x="578.7" y="233.5" width="4.8" height="9.2" fill="#e07a38"/><rect x="632.3" y="235.1" width="4.9" height="6.4" fill="#b05a30"/><rect x="668.8" y="235.5" width="3.0" height="8.8" fill="#b05a30"/><rect x="524.0" y="235.5" width="4.2" height="6.5" fill="#d06a30"/><rect x="562.0" y="233.7" width="2.8" height="8.0" fill="#d06a30"/><rect x="606.8" y="235.7" width="4.3" height="7.0" fill="#e07a38"/><rect x="618.1" y="235.6" width="2.5" height="9.4" fill="#e8e0d8"/><rect x="650.0" y="234.5" width="3.2" height="7.9" fill="#e8e0d8"/><rect x="593.4" y="235.9" width="2.7" height="8.5" fill="#d06a30"/><rect x="512.2" y="233.1" width="4.3" height="10.0" fill="#d06a30"/><rect x="612.2" y="234.5" width="4.7" height="6.1" fill="#e8e0d8"/><rect x="635.6" y="234.0" width="4.7" height="7.5" fill="#e8e0d8"/><rect x="666.8" y="234.7" width="4.8" height="7.1" fill="#c04a28"/><rect x="594.2" y="234.7" width="4.6" height="7.2" fill="#e8e0d8"/>
<rect x="507.5" y="244" width="207.7" height="52.5" fill="url(#tvGrass)"/>
<rect x="507.5" y="254" width="207.7" height="1.2" fill="#9ad070" opacity="0.7"/>
<rect x="507.5" y="268" width="207.7" height="10" fill="#6ab040" opacity="0.35"/>
<g>
  <path d="M638,192 C644,190 650,192 652,198 L656,210 L654,226 L648,234 L642,222 L636,205 Z" fill="#e6c81a"/>
  <circle cx="642" cy="187" r="5" fill="#7a4a28"/>
  <path d="M622,262 L640,266 L642,282 L636,284 L632,272 L620,270 Z" fill="#e8e8e8"/>
  <path d="M690,192 C696,190 702,193 703,200 L708,214 L705,222 L700,236 L703,250 L699,262 L694,276 L689,276 L691,262 L688,248 L684,238 L682,222 L686,210 Z" fill="#e8cc20"/>
  <rect x="683" y="234" width="16" height="11" fill="#2a4aa8"/>
  <rect x="688" y="247" width="6" height="28" fill="#e8e8e8"/>
  <circle cx="695" cy="188" r="5" fill="#5a3418"/>
  <path d="M698,274 L710,280 L706,284 L694,278 Z" fill="#e05030"/>
  <path d="M618,205 C624,200 634,200 640,206 L650,214 L657,228 L650,232 L644,222 L642,240 L640,252 L638,268 L636,288 L630,292 L628,270 L626,258 L606,262 L588,270 L574,272 L572,267 L586,262 L604,250 L614,240 L614,226 L604,222 L601,216 Z" fill="#161616"/>
  <rect x="618" y="218" width="24" height="9" fill="#b8202a" transform="rotate(-8 630 222)"/>
  <rect x="618" y="231" width="24" height="3" fill="#c8202a" transform="rotate(-8 630 232)"/>
  <circle cx="626" cy="201" r="6" fill="#e0b888"/>
  <path d="M620,196 C623,192 630,192 632,197 Z" fill="#e8d090"/>
  <path d="M566,269 L576,266 L578,274 L568,276 Z" fill="#c8c8c8"/>
  <path d="M628,286 L640,286 L640,292 L628,292 Z" fill="#d0d0d0"/>
  <path d="M650,262 L660,270 L656,280 L648,272 Z" fill="#a8c820"/>
  <circle cx="531" cy="250" r="7" fill="#ececec"/>
  <path d="M528,247 L532,247 L531,251 Z" fill="#555"/>
</g>
<rect x="567" y="298" width="88.7" height="2" fill="#333"/>
<path d="M567,298 L567,306 Q567,308.5 570,308.5 L652.7,308.5 Q655.7,308.5 655.7,306 L655.7,298" fill="none" stroke="#555" stroke-width="1.6"/>

<!-- ===== DVD ===== -->
<polygon points="766,248.5 923.3,248.5 946.3,274.6 744.4,274.6" fill="url(#dvdTop)"/>
<rect x="744.4" y="274.6" width="201.9" height="18.7" fill="url(#dvdFront)"/>
<rect x="744.4" y="274.6" width="201.9" height="1.5" fill="#111"/>
<rect x="750" y="293.3" width="190" height="4.3" fill="#111"/>
<rect x="865" y="279.5" width="42" height="8" fill="#1a1a1e"/>
<path d="M840,276 L858,276" stroke="#3a6aff" stroke-width="1.5" opacity="0.7"/>
<rect x="841" y="282" width="7" height="5" fill="#3a7aff"/>
<circle cx="924" cy="285" r="2" fill="#888"/><circle cx="933" cy="285" r="2" fill="#888"/>

<!-- ===== speakers ===== -->
<defs>
  <linearGradient id="subPanel" x1="0" y1="0" x2="1" y2="0">
    <stop offset="0" stop-color="#1a1a1a"/>
    <stop offset="0.5" stop-color="#4a4a4a"/>
    <stop offset="1" stop-color="#1c1c1c"/>
  </linearGradient>
  <linearGradient id="spkFront" x1="0" y1="0" x2="1" y2="0">
    <stop offset="0" stop-color="#0e0e0e"/>
    <stop offset="0.3" stop-color="#2a2a2a"/>
    <stop offset="0.7" stop-color="#1c1c1c"/>
    <stop offset="1" stop-color="#0a0a0a"/>
  </linearGradient>
</defs>
<!-- sub -->
<polygon points="1119,175.6 1167.3,188 1167.3,300 1119,300" fill="#1c1c1c"/>
<polygon points="1048.6,179.5 1119,175.6 1121,300 1048.6,300" fill="#161616"/>
<rect x="1049" y="180.5" width="45.6" height="63" fill="url(#subPanel)"/>
<rect x="1049" y="243.4" width="45.6" height="6" fill="#0c0c0c"/>
<g fill="#444"><circle cx="1061" cy="246.5" r="1.3"/><circle cx="1065.5" cy="246.5" r="1.3"/><circle cx="1070" cy="246.5" r="1.3"/><circle cx="1074.5" cy="246.5" r="1.3"/><circle cx="1079" cy="246.5" r="1.3"/></g>
<circle cx="1081.5" cy="246.3" r="2" fill="#e8e8e8"/>
<rect x="1049" y="249.4" width="45.6" height="50.6" fill="#1a1a1a"/>
<circle cx="1071" cy="273" r="14.2" fill="#dcdcdc"/>
<circle cx="1071" cy="273" r="12.6" fill="#050505"/>
<path d="M1093,192 Q1101,186 1110,192 Q1116,200 1110,210 L1108,214 Q1110,224 1101,227 Q1093,226 1093,216 L1093,210 Q1087,200 1093,192 Z" fill="#2a2a2a" stroke="#555" stroke-width="0.8"/>
<circle cx="1101.3" cy="199.5" r="6.5" fill="url(#cone)"/>
<circle cx="1101" cy="218.1" r="4" fill="url(#cone)"/>
<rect x="1102" y="258" width="6" height="26" rx="2.5" fill="#202020" stroke="#3a3a3a" stroke-width="0.8"/>
<!-- left speaker -->
<rect x="1002" y="220.5" width="39.5" height="78.5" fill="url(#spkFront)"/>
<rect x="1041" y="220.5" width="6.8" height="78.5" fill="#070707"/>
<circle cx="1020.3" cy="242.6" r="10" fill="#141414" stroke="#e8e8e8" stroke-width="2.4"/>
<g stroke="#6a6a6a" stroke-width="1"><line x1="1015" y1="239.5" x2="1026" y2="239.5"/><line x1="1015" y1="242.5" x2="1026" y2="242.5"/><line x1="1015" y1="245.5" x2="1026" y2="245.5"/></g>
<ellipse cx="1020" cy="272.7" rx="16.2" ry="18.4" fill="#0c0c0c" stroke="#dedede" stroke-width="1.6"/>
<ellipse cx="1023.2" cy="272.5" rx="10.2" ry="13" fill="url(#cone)"/>
<!-- right speaker -->
<rect x="1162.7" y="210" width="50" height="91.4" fill="url(#spkFront)"/>
<rect x="1212.6" y="211" width="13.4" height="90.4" fill="#0c0c0c"/>
<circle cx="1186" cy="235" r="12.6" fill="#141414" stroke="#e8e8e8" stroke-width="2.4"/>
<g stroke="#6a6a6a" stroke-width="1.2"><line x1="1180" y1="231" x2="1194" y2="231"/><line x1="1180" y1="235" x2="1194" y2="235"/><line x1="1180" y1="239" x2="1194" y2="239"/></g>
<ellipse cx="1186" cy="269.8" rx="21" ry="19.9" fill="#0c0c0c" stroke="#dedede" stroke-width="1.6"/>
<ellipse cx="1186.5" cy="269.6" rx="11.7" ry="14" fill="url(#cone)"/>

<!-- ===== headphones ===== -->
<path d="M1331,246 L1331,198" stroke="#2c2c2e" stroke-width="6" fill="none"/>
<path d="M1463.5,246 L1463.5,198" stroke="#2c2c2e" stroke-width="6" fill="none"/>
<path d="M1328,202 C1328,165 1358,145 1397.5,145 C1437,145 1466.5,165 1466.5,202 L1460,200 C1456,173 1430,157.6 1397.5,157.6 C1365,157.6 1339,173 1335,200 Z" fill="#1a1a1b"/>
<path d="M1329.5,200 C1330,166 1359,147 1397.5,147 C1436,147 1465,166 1465,200" fill="none" stroke="#3c3c3e" stroke-width="1"/>
<!-- left cup -->
<rect x="-12.5" y="-26" width="25" height="52" rx="11" transform="translate(1357.5,264) rotate(-20)" fill="#202022" stroke="#0a0a0a" stroke-width="1"/>
<rect x="-8" y="-20" width="16" height="40" rx="7" transform="translate(1358.5,264) rotate(-20)" fill="none" stroke="#2e2e30" stroke-width="1"/>
<path d="M1329,244.5 L1342,242.5 L1360,291 L1352,297.5 L1341,290 Z" fill="#161617"/>
<path d="M1341.5,243.5 L1360.5,288" stroke="#1f5fd6" stroke-width="4"/>
<path d="M1341,244 L1349,262" stroke="#7ab0ff" stroke-width="1.3"/>
<!-- right cup -->
<rect x="-12.5" y="-26" width="25" height="52" rx="11" transform="translate(1437.1,264) rotate(20)" fill="#202022" stroke="#0a0a0a" stroke-width="1"/>
<rect x="-8" y="-20" width="16" height="40" rx="7" transform="translate(1436.1,264) rotate(20)" fill="none" stroke="#2e2e30" stroke-width="1"/>
<path d="M1465.6,244.5 L1452.6,242.5 L1434.6,291 L1442.6,297.5 L1453.6,290 Z" fill="#161617"/>
<path d="M1453.1,243.5 L1434.1,288" stroke="#1f5fd6" stroke-width="4"/>
<path d="M1453.6,244 L1446,262" stroke="#7ab0ff" stroke-width="1.3"/>
<path d="M1438.2,296 L1438.2,303.5" stroke="#2a70e0" stroke-width="2.5"/>

<!-- ===== remote ===== -->
<g fill="none" stroke="#1a9ce4" stroke-width="9" stroke-linecap="butt"><path d="M268.32,1210.59 A48.5,48.5 0 0 1 349.68,1210.59"/><path d="M283.42,1220.39 A30.5,30.5 0 0 1 334.58,1220.39"/><path d="M296.76,1231.29 A13.5,13.5 0 0 1 321.24,1231.29"/></g>
<defs><linearGradient id="remG" x1="0" y1="0" x2="1" y2="0"><stop offset="0" stop-color="#2a2a2a"/><stop offset="0.5" stop-color="#343434"/><stop offset="1" stop-color="#2a2a2a"/></linearGradient></defs>
<rect x="254.5" y="1252" width="109" height="283.6" rx="7" fill="url(#remG)"/>
<rect x="254.5" y="1252" width="109" height="283.6" rx="7" fill="none" stroke="#1a1a1a" stroke-width="1.5"/>
<rect x="303" y="1249" width="12" height="5" rx="2" fill="#333"/>
<rect x="262.5" y="1267.3" width="93.3" height="135.3" fill="#e6e6e6"/>
<g fill="#8c8c8c" stroke="#2a2a2a" stroke-width="1.5">
  <circle cx="279.9" cy="1287.5" r="10.2"/>
  <circle cx="338" cy="1287.5" r="10.2"/>
  <circle cx="308.8" cy="1301.8" r="10.2"/>
  <circle cx="308.8" cy="1331.4" r="10.2"/>
  <circle cx="308.8" cy="1360" r="10.2"/>
  <circle cx="279.9" cy="1375.3" r="10.2"/>
  <circle cx="338" cy="1375.3" r="10.2"/>
</g>
<g fill="#333" font-size="6.5">
  <text x="274" y="1275.5">ON</text>
  <text x="330" y="1275.5">OFF</text>
  <text x="268" y="1363">Toslink</text>
  <text x="327" y="1361.5">Coaxial</text>
</g>
<path d="M303.5,1281 L306,1281 L309,1278.5 L309,1286.5 L306,1284 L303.5,1284 Z" fill="none" stroke="#444" stroke-width="0.8"/>
<path d="M310.5,1280.5 L313.5,1284.5 M313.5,1280.5 L310.5,1284.5" stroke="#444" stroke-width="0.7"/>
<rect x="305" y="1318" width="6" height="1.2" fill="#333"/>
<rect x="307.4" y="1315.6" width="1.2" height="6" fill="#333"/>
<rect x="303" y="1346" width="10" height="1.3" fill="#333"/>

<!-- ===== mute icon ===== -->
<path d="M452,1353 L466,1353 L492,1328.5 Q496.4,1326 496.4,1331 L496.4,1406 Q496.4,1411 492,1408.5 L466,1383.5 L452,1383.5 Q448,1383.5 448,1379.5 L448,1357 Q448,1353 452,1353 Z" fill="#555"/>
<line x1="436" y1="1330" x2="540" y2="1434" stroke="#fff" stroke-width="8.6"/>
<line x1="445.4" y1="1328.9" x2="524.1" y2="1407.6" stroke="#555" stroke-width="6.8" stroke-linecap="round"/>

<!-- ===== volume icon ===== -->
<g fill="#555">
  <rect x="1023.75" y="1371.25" width="12.25" height="18.35"/>
  <rect x="1051.5" y="1351.9" width="12.5" height="37.7"/>
  <rect x="1080" y="1332.9" width="11.9" height="56.7"/>
  <rect x="1107.9" y="1314.6" width="12.35" height="75"/>
  <rect x="1135.9" y="1313.4" width="12.1" height="76.2"/>
  <rect x="999" y="1412" width="23.25" height="6.75"/>
  <rect x="1149.75" y="1414.4" width="31.15" height="4.3"/>
  <rect x="1163" y="1400" width="4.5" height="32.25"/>
</g>
<g stroke="#6a6a6a" stroke-width="0.8">
  <line x1="1051.5" y1="1370.4" x2="1064" y2="1370.4"/>
  <line x1="1080" y1="1370.4" x2="1092" y2="1370.4"/>
  <line x1="1080" y1="1351" x2="1092" y2="1351"/>
  <line x1="1108" y1="1370.4" x2="1120" y2="1370.4"/>
  <line x1="1108" y1="1351" x2="1120" y2="1351"/>
  <line x1="1136" y1="1370.4" x2="1148" y2="1370.4"/>
  <line x1="1136" y1="1351" x2="1148" y2="1351"/>
  <line x1="1136" y1="1332" x2="1148" y2="1332"/>
</g>
<text x="1055.5" y="1431" font-size="41.5" fill="#555" stroke="#555" stroke-width="1.1" textLength="69.8" lengthAdjust="spacingAndGlyphs">VOL</text>

<!-- ============ TEXT LABELS (top) ============ -->
<g fill="#222" font-size="50.5">
  <text x="36" y="356" textLength="150.5" lengthAdjust="spacingAndGlyphs">phone</text>
  <text x="581" y="356" textLength="58" lengthAdjust="spacingAndGlyphs">TV</text>
  <text x="797" y="356" textLength="102" lengthAdjust="spacingAndGlyphs">DVD</text>
  <text x="1018.5" y="358" textLength="210" lengthAdjust="spacingAndGlyphs">Speakers</text>
  <text x="1270.5" y="358" textLength="293" lengthAdjust="spacingAndGlyphs">Headphones</text>
  <text x="597.5" y="1376.6" font-size="49.5" textLength="270" lengthAdjust="spacingAndGlyphs">Input Select</text>
</g>

<!-- panel labels -->
<g fill="#fff" font-size="23" stroke="#fff" stroke-width="0.55">
  <text x="248.5" y="733.75" textLength="67.5" lengthAdjust="spacingAndGlyphs">Power</text>
  <text x="409" y="726" textLength="31" lengthAdjust="spacingAndGlyphs">BT</text>
  <text x="593.4" y="733.5" textLength="71.4" lengthAdjust="spacingAndGlyphs">Toslink</text>
  <text x="795.3" y="733.5" textLength="79.5" lengthAdjust="spacingAndGlyphs">Coaxial</text>
  <text x="1001" y="733.5" textLength="16" lengthAdjust="spacingAndGlyphs">L</text>
  <text x="1181" y="733.5" textLength="20.5" lengthAdjust="spacingAndGlyphs">R</text>
  <text x="1355" y="733.4" textLength="49.5" lengthAdjust="spacingAndGlyphs">AUX</text>
  <text x="687" y="759.4" font-size="22.5" stroke-width="0.2" textLength="70" lengthAdjust="spacingAndGlyphs">INPUT</text>
  <text x="1047.5" y="760" font-size="22.5" stroke-width="0.2" textLength="96.5" lengthAdjust="spacingAndGlyphs">OUTPUT</text>
</g>
<g fill="#fff" font-size="24" stroke="#fff" stroke-width="0.55">
  <text x="306.5" y="1088.75" textLength="27.5" lengthAdjust="spacingAndGlyphs">IR</text>
  <text x="462.5" y="1089" textLength="56.5" lengthAdjust="spacingAndGlyphs">Mute</text>
  <text x="575" y="1089" textLength="81.5" lengthAdjust="spacingAndGlyphs">Coaxial</text>
  <text x="672.5" y="1089" textLength="84" lengthAdjust="spacingAndGlyphs">Toslink</text>
  <text x="772" y="1089" textLength="78" lengthAdjust="spacingAndGlyphs">Select</text>
  <text x="1145.5" y="1089" textLength="57" lengthAdjust="spacingAndGlyphs">VOL</text>
  <text x="1355" y="1089" textLength="71" lengthAdjust="spacingAndGlyphs">Power</text>
</g>

</svg>
</body></html>
